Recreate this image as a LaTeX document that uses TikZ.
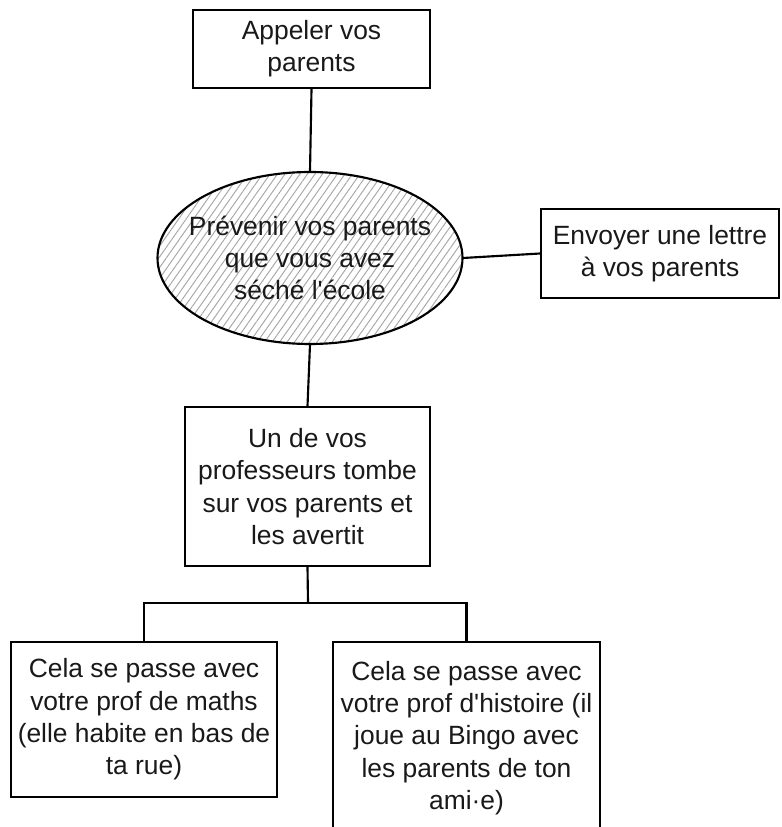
\documentclass[tikz,border=0pt]{standalone}
\usepackage{fontspec}
\setmainfont{Liberation Sans}[Ligatures=TeXOff]
\usetikzlibrary{shapes.geometric,patterns.meta}
\begin{document}
\begin{tikzpicture}[x=0.75pt,y=-0.75pt,
  txt/.style={align=center, inner sep=0pt, font=\fontsize{19.8}{24.2}\selectfont, text=black!90},
  box/.style={txt, draw=black, line width=1.6pt, fill=white},
  link/.style={draw=black, line width=1.6pt},
]
\useasboundingbox (0,0) rectangle (781,827);
\clip (0,0) rectangle (781,827);
\fill[white] (0,0) rectangle (781,827);

\node[box, minimum width=177.75pt, minimum height=58.5pt] (top) at (311.5,49) {Appeler vos\\parents};

\node[ellipse, draw=black, line width=1.6pt, inner sep=0pt,
      pattern={Lines[angle=55, distance=4.6pt, line width=0.7pt]}, pattern color=black!35,
      minimum width=228.75pt, minimum height=129pt] (ell) at (310,258) {};
\node[txt] (elltext) at (ell.center) {Prévenir vos parents\\que vous avez\\séché l'école};

\node[box, minimum width=178.5pt, minimum height=66.75pt] (right) at (660,253.5) {Envoyer une lettre\\à vos parents};

\node[box, minimum width=183.75pt, minimum height=119.25pt] (mid) at (307.5,486.5) {Un de vos\\professeurs tombe\\sur vos parents et\\les avertit};

\node[box, minimum width=199.5pt, minimum height=116.25pt] (lb) at (144,719.5) {Cela se passe avec\\votre prof de maths\\(elle habite en bas de\\ta rue)};

\node[box, minimum width=200.25pt, minimum height=144pt] (rb) at (466.5,738) {Cela se passe avec\\votre prof d'histoire (il\\joue au Bingo avec\\les parents de ton\\ami·e)};

\coordinate (bar) at (308,603);

\draw[link] (top.south) -- (ell.north);
\draw[link] (ell.east) -- (right.west);
\draw[link] (ell.south) -- (mid.north);
\draw[link] (mid.south) -- (bar);
\draw[link] (lb.north) |- (bar) -| (rb.north);
\end{tikzpicture}
\end{document}
